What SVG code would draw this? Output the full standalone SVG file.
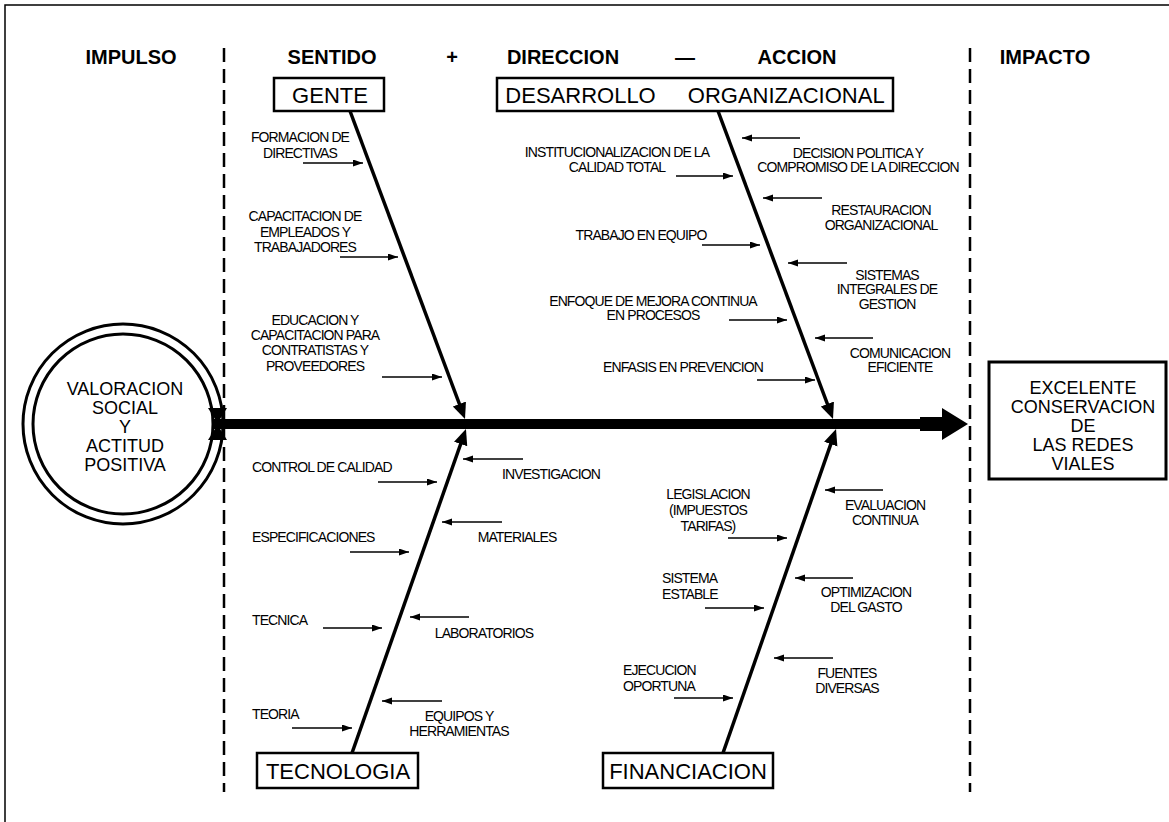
<svg xmlns="http://www.w3.org/2000/svg" width="1169" height="822" viewBox="0 0 1169 822">
<style>
text{font-family:"Liberation Sans",Arial,sans-serif;fill:#000}
.h{font-size:20px;font-weight:bold;text-anchor:middle}
.b{font-size:22px;text-anchor:middle}
.c{font-size:18px;text-anchor:middle}
.s{font-size:14px;letter-spacing:-0.9px;text-anchor:middle}
.l{font-size:14px;letter-spacing:-0.9px;text-anchor:start}
.box{fill:#fff;stroke:#000;stroke-width:2.5}
.bone{stroke:#000;stroke-width:3.5;fill:none;marker-end:url(#big)}
.arr{stroke:#000;stroke-width:1.5;fill:none;marker-end:url(#sm)}
.dash{stroke:#000;stroke-width:2.5;stroke-dasharray:14 7;fill:none}
</style>
<defs>
<marker id="big" markerUnits="userSpaceOnUse" markerWidth="18" markerHeight="16" refX="8" refY="7" orient="auto" viewBox="0 0 18 16"><path d="M0,0 L16,7 L0,14 z" fill="#000"/></marker>
<marker id="sm" markerUnits="userSpaceOnUse" markerWidth="11" markerHeight="8" refX="10" refY="3.5" orient="auto" viewBox="0 0 11 8"><path d="M0,0 L10,3.5 L0,7 z" fill="#000"/></marker>
</defs>
<rect x="0" y="0" width="1169" height="822" fill="#fff"/>
<rect x="5" y="5" width="1200" height="900" fill="none" stroke="#000" stroke-width="1.5"/>

<g id="headers">
<text class="h" x="131" y="64">IMPULSO</text>
<text class="h" x="332" y="64">SENTIDO</text>
<text class="h" x="452" y="64">+</text>
<text class="h" x="563" y="64">DIRECCION</text>
<text class="h" x="685" y="64">—</text>
<text class="h" x="797" y="64">ACCION</text>
<text class="h" x="1045" y="64">IMPACTO</text>
</g>
<g id="dividers">
<line class="dash" x1="224" y1="48" x2="224" y2="792"/>
<line class="dash" x1="970" y1="48" x2="970" y2="792"/>
</g>

<g id="impulso">
<circle cx="123" cy="424" r="100" fill="#fff" stroke="#000" stroke-width="3"/>
<circle cx="123" cy="424" r="90" fill="none" stroke="#000" stroke-width="3"/>
<text class="c" x="125" y="395">VALORACION</text>
<text class="c" x="125" y="414">SOCIAL</text>
<text class="c" x="125" y="433">Y</text>
<text class="c" x="125" y="452">ACTITUD</text>
<text class="c" x="125" y="471">POSITIVA</text>
</g>

<g id="impacto">
<rect x="989" y="362" width="177" height="117" fill="#fff" stroke="#000" stroke-width="3"/>
<text class="c" x="1083" y="394">EXCELENTE</text>
<text class="c" x="1083" y="413">CONSERVACION</text>
<text class="c" x="1083" y="432">DE</text>
<text class="c" x="1083" y="451">LAS REDES</text>
<text class="c" x="1083" y="470">VIALES</text>
</g>

<g id="connectors">
<rect x="212" y="419" width="712" height="10" fill="#000"/>
<polygon points="920,417 942,417 942,408 968,424 942,440 942,431 920,431" fill="#000"/>
<polygon points="208,408 227,408 217.5,423" fill="#000"/>
<polygon points="208,440 227,440 217.5,425" fill="#000"/>
<line class="bone" x1="350" y1="111" x2="462.2" y2="411.5"/>
<line class="bone" x1="718" y1="111" x2="830.2" y2="411.5"/>
<line class="bone" x1="352" y1="753" x2="463.3" y2="436.5"/>
<line class="bone" x1="723" y1="753" x2="833.4" y2="436.6"/>
<line class="arr" x1="303" y1="163" x2="363" y2="163"/>
<line class="arr" x1="340" y1="257" x2="398" y2="257"/>
<line class="arr" x1="382" y1="377" x2="442" y2="377"/>
<line class="arr" x1="676" y1="176" x2="733" y2="176"/>
<line class="arr" x1="702" y1="245" x2="760" y2="245"/>
<line class="arr" x1="729" y1="320" x2="787" y2="320"/>
<line class="arr" x1="757" y1="380" x2="815" y2="380"/>
<line class="arr" x1="800" y1="138" x2="742" y2="138"/>
<line class="arr" x1="822" y1="198" x2="763" y2="198"/>
<line class="arr" x1="847" y1="263" x2="788" y2="263"/>
<line class="arr" x1="873" y1="338" x2="815" y2="338"/>
<line class="arr" x1="378" y1="482" x2="437" y2="482"/>
<line class="arr" x1="350" y1="552" x2="409" y2="552"/>
<line class="arr" x1="323" y1="628" x2="382" y2="628"/>
<line class="arr" x1="292" y1="728" x2="352" y2="728"/>
<line class="arr" x1="523" y1="459" x2="463" y2="459"/>
<line class="arr" x1="502" y1="522" x2="442" y2="522"/>
<line class="arr" x1="469" y1="617" x2="410" y2="617"/>
<line class="arr" x1="442" y1="701" x2="382" y2="701"/>
<line class="arr" x1="728" y1="538" x2="787" y2="538"/>
<line class="arr" x1="705" y1="608" x2="764" y2="608"/>
<line class="arr" x1="674" y1="698" x2="733" y2="698"/>
<line class="arr" x1="883" y1="490" x2="825" y2="490"/>
<line class="arr" x1="853" y1="578" x2="795" y2="578"/>
<line class="arr" x1="833" y1="658" x2="774" y2="658"/>
</g>

<g id="gente">
<rect class="box" x="274" y="78" width="110" height="33"/>
<text class="b" x="330" y="103">GENTE</text>
<text class="s" x="300" y="142">FORMACION DE</text>
<text class="s" x="300" y="158">DIRECTIVAS</text>
<text class="s" x="305" y="221">CAPACITACION DE</text>
<text class="s" x="305" y="237">EMPLEADOS Y</text>
<text class="s" x="305" y="252">TRABAJADORES</text>
<text class="s" x="315" y="325">EDUCACION Y</text>
<text class="s" x="315" y="340">CAPACITACION PARA</text>
<text class="s" x="315" y="355">CONTRATISTAS Y</text>
<text class="s" x="315" y="371">PROVEEDORES</text>
</g>

<g id="desarrollo">
<rect class="box" x="497" y="78" width="396" height="33"/>
<text class="b" x="695" y="103" style="word-spacing:26px">DESARROLLO ORGANIZACIONAL</text>
<text class="s" x="617" y="157">INSTITUCIONALIZACION DE LA</text>
<text class="s" x="617" y="172">CALIDAD TOTAL</text>
<text class="s" x="641" y="240">TRABAJO EN EQUIPO</text>
<text class="s" x="653" y="306">ENFOQUE DE MEJORA CONTINUA</text>
<text class="s" x="653" y="320">EN PROCESOS</text>
<text class="s" x="683" y="372">ENFASIS EN PREVENCION</text>
<text class="s" x="858" y="158">DECISION POLITICA Y</text>
<text class="s" x="858" y="172">COMPROMISO DE LA DIRECCION</text>
<text class="s" x="881" y="215">RESTAURACION</text>
<text class="s" x="881" y="230">ORGANIZACIONAL</text>
<text class="s" x="887" y="280">SISTEMAS</text>
<text class="s" x="887" y="294">INTEGRALES DE</text>
<text class="s" x="887" y="309">GESTION</text>
<text class="s" x="900" y="358">COMUNICACION</text>
<text class="s" x="900" y="372">EFICIENTE</text>
</g>

<g id="tecnologia">
<rect class="box" x="257" y="753" width="161" height="35"/>
<text class="b" x="338" y="779">TECNOLOGIA</text>
<text class="l" x="252" y="472">CONTROL DE CALIDAD</text>
<text class="l" x="252" y="542">ESPECIFICACIONES</text>
<text class="l" x="252" y="625">TECNICA</text>
<text class="l" x="252" y="719">TEORIA</text>
<text class="s" x="551" y="479">INVESTIGACION</text>
<text class="s" x="517" y="542">MATERIALES</text>
<text class="s" x="484" y="638">LABORATORIOS</text>
<text class="s" x="459" y="721">EQUIPOS Y</text>
<text class="s" x="459" y="736">HERRAMIENTAS</text>
</g>

<g id="financiacion">
<rect class="box" x="603" y="753" width="170" height="35"/>
<text class="b" x="688" y="779">FINANCIACION</text>
<text class="s" x="708" y="499">LEGISLACION</text>
<text class="s" x="708" y="515">(IMPUESTOS</text>
<text class="s" x="708" y="531">TARIFAS)</text>
<text class="l" x="662" y="583">SISTEMA</text>
<text class="l" x="662" y="599">ESTABLE</text>
<text class="l" x="623" y="675">EJECUCION</text>
<text class="l" x="623" y="691">OPORTUNA</text>
<text class="s" x="885" y="510">EVALUACION</text>
<text class="s" x="885" y="525">CONTINUA</text>
<text class="s" x="866" y="597">OPTIMIZACION</text>
<text class="s" x="866" y="612">DEL GASTO</text>
<text class="s" x="847" y="678">FUENTES</text>
<text class="s" x="847" y="693">DIVERSAS</text>
</g>
</svg>
